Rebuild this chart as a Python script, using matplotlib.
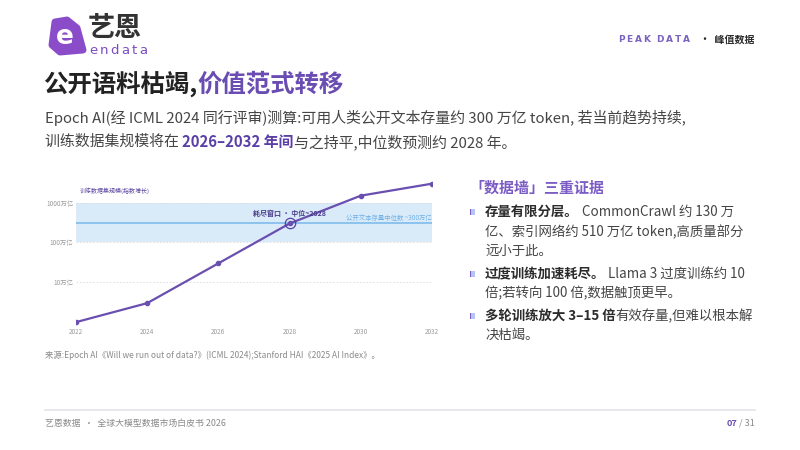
import numpy as np
import matplotlib
matplotlib.use('Agg')
import matplotlib.pyplot as plt
from matplotlib.patches import Polygon, Rectangle

plt.rcParams['font.family'] = ['Noto Sans CJK SC', 'DejaVu Sans']

# Datos del grafico (万亿 token)
years = [2022, 2024, 2026, 2028, 2030, 2032]
dataset_size = [1, 3, 30, 300, 1500, 3000]
stock_median = 300
stock_low, stock_high = 100, 1000
ytick_vals = [10, 100, 1000]
ytick_labels = ['10万亿', '100万亿', '1000万亿']
xtick_labels = [str(y) for y in years]

PURPLE = '#6a4fb0'
DARK = '#2b2b2b'
GRAY = '#454545'

W, H = 800, 450
fig = plt.figure(figsize=(8, 4.5), dpi=100)
fig.patch.set_facecolor('white')


def fx(x):
    return x / W


def fy(y):
    return 1 - y / H


def ptext(x, y, s, **kw):
    return fig.text(fx(x), fy(y), s, **kw)


renderer = fig.canvas.get_renderer()


def rich_line(x, y, parts, size):
    # Dibujar segmentos uno tras otro (texto, peso, color)
    for s, weight, color in parts:
        t = ptext(x, y, s, fontsize=size, fontweight=weight, color=color,
                  ha='left', va='center')
        bb = t.get_window_extent(renderer)
        x = bb.x1


def tracked(x, y, s, track, **kw):
    # Texto con espaciado entre letras
    for ch in s:
        if ch == ' ':
            x += track * 2
            continue
        t = ptext(x, y, ch, ha='left', va='center', **kw)
        x = t.get_window_extent(renderer).x1 + track


# Logo
blob = Polygon([(fx(55), fy(22)), (fx(67), fy(20)), (fx(77), fy(28)),
                (fx(83), fy(50)), (fx(60), fy(52)), (fx(52), fy(45))],
               closed=True, transform=fig.transFigure, facecolor='#8a4cc9',
               edgecolor='#8a4cc9', linewidth=5, joinstyle='round')
fig.patches.append(blob)
ptext(65, 37, 'e', fontsize=19, fontweight='bold', color='white',
      ha='center', va='center', family='DejaVu Sans')
ptext(88, 28.5, '艺恩', fontsize=19.5, fontweight='bold', color='#333333',
      ha='left', va='center')
tracked(89, 50.5, 'endata', 2.4, fontsize=9.5, color='#7b4cc0',
        family='DejaVu Sans')

# Cabecera derecha
tracked(618, 39.5, 'PEAK DATA', 1.9, fontsize=6.5, fontweight='bold',
        color='#7a62bf', family='DejaVu Sans')
ptext(755, 39.5, '•  峰值数据', fontsize=7.2, fontweight='bold', color=DARK,
      ha='right', va='center')

# Titulo
rich_line(43, 85, [('公开语料枯竭,', 'bold', '#222222'),
                   ('价值范式转移', 'bold', '#6a4db3')], 17.6)

# Subtitulo
rich_line(45, 118, [('Epoch AI(经 ICML 2024 同行评审)测算:可用人类公开文本存量约 300 万亿 token, 若当前趋势持续,',
                     'normal', GRAY)], 10.75)
rich_line(45, 142, [('训练数据集规模将在 ', 'normal', GRAY),
                    ('2026–2032 年间', 'bold', '#5b3fa8'),
                    ('与之持平,中位数预测约 2028 年。', 'normal', GRAY)], 10.75)

# Grafico
ax = fig.add_axes([fx(76), fy(326), fx(432) - fx(76), fy(178.7) - fy(326)])
ax.set_yscale('log')
ax.set_xlim(2022, 2032)
ax.set_ylim(0.8, 4000)
ax.axhspan(stock_low, stock_high, color='#d9ebf9', zorder=1, lw=0)
for v in ytick_vals:
    ax.axhline(v, color='#dcdcdc', lw=0.6, ls=(0, (2, 2)), zorder=2)
ax.axhline(stock_median, color='#8cc2ee', lw=1.4, zorder=2)
ax.plot(years, dataset_size, color=PURPLE, lw=1.6, marker='o', ms=3,
        zorder=4)
ax.plot([years[3]], [dataset_size[3]], marker='o', ms=7.5, mfc='none',
        mec='#5a40a0', mew=0.9, zorder=5)
ax.annotate('耗尽窗口 · 中位~2028', xy=(years[3], dataset_size[3]),
            xytext=(0, 7.6), textcoords='offset points', ha='center',
            va='center', fontsize=5, fontweight='bold', color='#4b3b8c',
            zorder=6)
ax.annotate('公开文本存量中位数 ~300万亿', xy=(2032, stock_median),
            xytext=(0, 4), textcoords='offset points', ha='right',
            va='center', fontsize=4.6, color='#6fb0e6', zorder=6)

ax.set_xticks(years)
ax.set_xticklabels(xtick_labels)
ax.set_yticks(ytick_vals)
ax.set_yticklabels(ytick_labels)
ax.yaxis.set_minor_locator(matplotlib.ticker.NullLocator())
ax.tick_params(axis='x', length=0, pad=1.5, labelsize=4.6, labelcolor='#9a9a9a')
ax.tick_params(axis='y', length=0, pad=2, labelsize=4.6, labelcolor='#9a9a9a')
for sp in ax.spines.values():
    sp.set_visible(False)
ax.patch.set_alpha(0)

ptext(80, 190.7, '训练数据集规模(指数增长)', fontsize=4.3, color='#5b45a0',
      ha='left', va='center')

# Panel derecho
ptext(469, 187.3, '「数据墙」三重证据', fontsize=10.8, fontweight='bold',
      color='#7b5cc4', ha='left', va='center')

bullets = [
    (212.3, [[('存量有限分层。', 'bold', DARK), (' CommonCrawl 约 130 万', 'normal', GRAY)],
             [('亿、索引网络约 510 万亿 token,高质量部分', 'normal', GRAY)],
             [('远小于此。', 'normal', GRAY)]]),
    (274.3, [[('过度训练加速耗尽。', 'bold', DARK), (' Llama 3 过度训练约 10', 'normal', GRAY)],
             [('倍;若转向 100 倍,数据触顶更早。', 'normal', GRAY)]]),
    (316.0, [[('多轮训练放大 3–15 倍', 'bold', DARK), ('有效存量,但难以根本解', 'normal', GRAY)],
             [('决枯竭。', 'normal', GRAY)]]),
]
for y0, lines in bullets:
    fig.patches.append(Rectangle((fx(470), fy(y0 + 3)), fx(5), fy(y0 - 3) - fy(y0 + 3),
                                 transform=fig.transFigure, facecolor='#b3c6f2',
                                 edgecolor='none'))
    fig.patches.append(Rectangle((fx(470), fy(y0 + 3)), fx(1.5), fy(y0 - 3) - fy(y0 + 3),
                                 transform=fig.transFigure, facecolor='#7b5cc4',
                                 edgecolor='none'))
    for i, parts in enumerate(lines):
        rich_line(485, y0 + i * 19.3, parts, 9.65)

# Fuente
ptext(45, 355, '来源:Epoch AI《Will we run out of data?》(ICML 2024);Stanford HAI《2025 AI Index》。',
      fontsize=6.0, color='#8a8a8a', ha='left', va='center')

# Pie de pagina
fig.add_artist(plt.Line2D([fx(45), fx(755)], [fy(410), fy(410)], color='#e1e4ea',
                          lw=1.2, transform=fig.transFigure))
ptext(45, 423, '艺恩数据  ·  全球大模型数据市场白皮书 2026', fontsize=6.4,
      color='#8a8a8a', ha='left', va='center')
t_total = ptext(755, 423, ' / 31', fontsize=6.6, color='#8a8a8a', ha='right',
                va='center')
bb = t_total.get_window_extent(renderer)
fig.text(bb.x0 / fig.bbox.width, fy(423), '07', fontsize=6.6, fontweight='bold',
         color='#6a4fb0', ha='right', va='center')

fig.savefig('out.png', dpi=100, facecolor='white')
